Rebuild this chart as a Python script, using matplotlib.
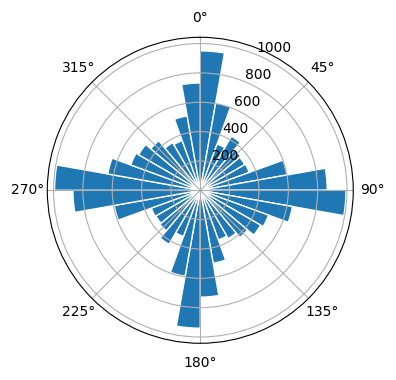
import numpy as np
import matplotlib
matplotlib.use("Agg")
import matplotlib.pyplot as plt

# bin start angles (degrees, clockwise from north), 10-degree bins
bin_edges_deg = list(range(0, 360, 10))
counts = [
    950, 605, 335, 425, 360, 350, 355, 600, 865,
    993, 638, 495, 475, 420, 380, 360, 505, 728,
    940, 595, 335, 425, 360, 350, 355, 595, 868,
    993, 640, 505, 485, 440, 375, 360, 515, 731,
]
bin_width_deg = 10

fig = plt.figure(figsize=(3.96, 3.8), dpi=100)
ax = fig.add_axes([0.1194, 0.0966, 0.7727, 0.8053], projection="polar")
ax.set_theta_zero_location("N")
ax.set_theta_direction(-1)

theta = np.radians(bin_edges_deg)
ax.bar(theta, counts, width=np.radians(bin_width_deg), align="edge",
       color="#1f77b4", edgecolor="white", linewidth=1.0)

fig.savefig("out.png", dpi=100)
